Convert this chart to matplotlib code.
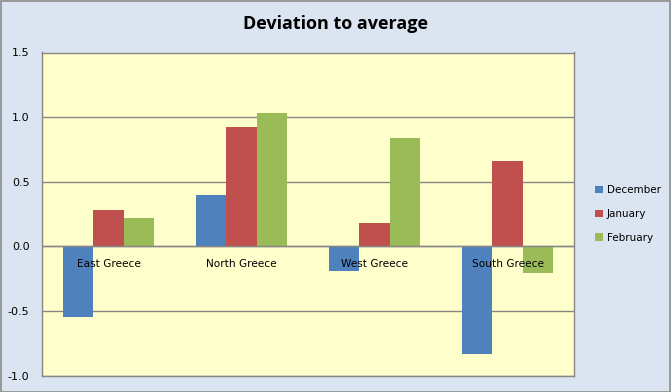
import matplotlib
matplotlib.use("Agg")
import matplotlib.pyplot as plt
import numpy as np
from matplotlib.patches import Rectangle

categories = ["East Greece", "North Greece", "West Greece", "South Greece"]
series_names = ["December", "January", "February"]
december = [-0.55, 0.40, -0.19, -0.83]
january = [0.28, 0.92, 0.18, 0.66]
february = [0.22, 1.03, 0.84, -0.21]
yticks = [-1.0, -0.5, 0.0, 0.5, 1.0, 1.5]
colors = ["#4f81bd", "#c0504d", "#9bbb59"]

W, H = 671, 392
fig = plt.figure(figsize=(W / 100, H / 100), dpi=100)
fig.patch.set_facecolor("#dbe5f1")
fig.patches.append(Rectangle((0.5 / W, 0.5 / H), 1 - 1.5 / W, 1 - 1.5 / H, transform=fig.transFigure,
                             fill=False, edgecolor="#8c8c8c", linewidth=1.2))

left, right, top, bottom = 42, 574, 52.5, 375.5
ax = fig.add_axes([left / W, 1 - bottom / H, (right - left) / W, (bottom - top) / H])
ax.set_facecolor("#ffffcc")

x = np.arange(len(categories))
bw = 0.226
for i, (vals, c, name) in enumerate(zip([december, january, february], colors, series_names)):
    ax.bar(x + (i - 1) * bw, vals, width=bw, color=c, label=name, zorder=3)

ax.set_xlim(-0.5, len(categories) - 0.5)
ax.set_ylim(-1.0, 1.5)
ax.set_yticks(yticks)
ax.set_yticklabels([f"{v:.1f}" for v in yticks], fontsize=8, color="#000000")
ax.yaxis.grid(True, color="#868686", linewidth=1, zorder=1)
ax.axhline(0, color="#868686", linewidth=1, zorder=4)
ax.set_xticks([])
ax.tick_params(axis="y", length=0, pad=9)
for s in ax.spines.values():
    s.set_color("#868686")
    s.set_linewidth(1)

for xi, cat in zip(x, categories):
    ax.text(xi, -0.14, cat, ha="center", va="center", fontsize=7.6, zorder=5)

fig.text(0.5, 1 - 24 / H, "Deviation to average", ha="center", va="center",
         fontsize=13, fontweight="bold", family="Open Sans")

handles, labels = ax.get_legend_handles_labels()
leg = fig.legend(handles, labels, loc="center left", bbox_to_anchor=(586 / W, 1 - 214 / H),
                 frameon=False, fontsize=7.5, handlelength=0.7, handleheight=0.7,
                 handletextpad=0.4, labelspacing=1.3)

fig.savefig("out.png", dpi=100, facecolor=fig.get_facecolor())
